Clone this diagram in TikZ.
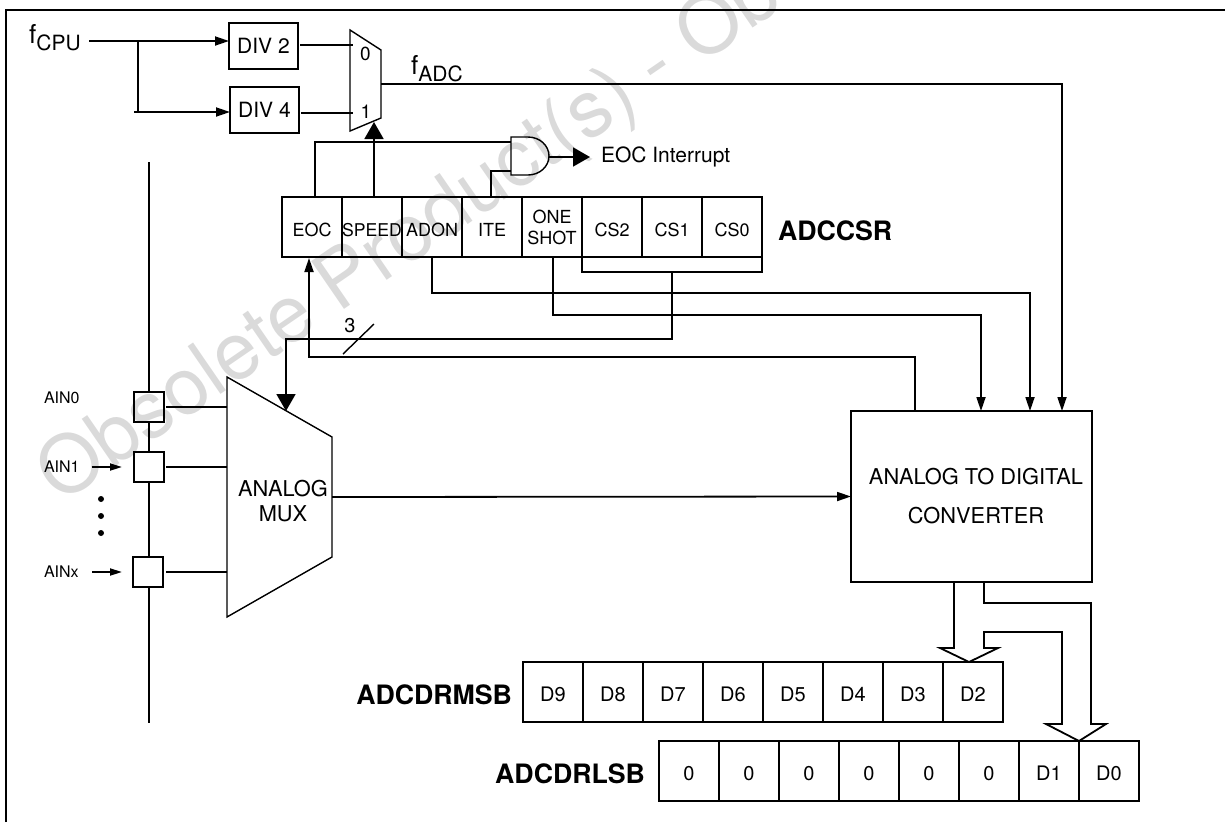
\documentclass[tikz,border=0pt]{standalone}
\usepackage{fontspec}
\setmainfont{TeX Gyre Heros}
\usetikzlibrary{arrows.meta,positioning}
\definecolor{adcink}{HTML}{000000}
\definecolor{adcmark}{HTML}{DADADA}
\tikzset{
  framelin/.style={line width=2.2pt, draw=adcink},
  wire/.style={line width=1.8pt, draw=adcink},
  thinline/.style={line width=1.4pt, draw=adcink},
  arrsmall/.style={-{Triangle[length=14pt,width=9pt]}, line width=1.8pt, draw=adcink},
  arrtiny/.style={-{Triangle[length=12pt,width=7pt]}, line width=1.8pt, draw=adcink},
  arrbig/.style={-{Triangle[length=17pt,width=19pt]}, line width=1.8pt, draw=adcink},
  divbox/.style={draw=adcink, line width=1.8pt, minimum width=69pt, minimum height=46pt,
    inner sep=0pt, outer sep=0pt, font=\fontsize{21}{24}\selectfont},
  cellbox/.style={draw=adcink, line width=1.8pt, minimum width=60pt, minimum height=60pt,
    inner sep=0pt, outer sep=0pt, align=center, font=\fontsize{18}{21}\selectfont},
  regcell/.style={cellbox, text height=19pt, text depth=0pt},
  datacell/.style={cellbox, text height=19pt, text depth=0pt, font=\fontsize{20}{23}\selectfont},
  padbox/.style={draw=adcink, line width=1.8pt, minimum size=30pt, inner sep=0pt, outer sep=0pt},
  ainlbl/.style={inner sep=0pt, outer sep=0pt, anchor=west, font=\fontsize{16}{19}\selectfont},
  plainlbl/.style={inner sep=0pt, outer sep=0pt, align=center, font=\fontsize{21.8}{25}\selectfont},
  boldlbl/.style={inner sep=0pt, outer sep=0pt, font=\fontsize{26.7}{30}\selectfont\bfseries},
  dotmark/.style={circle, fill=adcink, minimum size=6pt, inner sep=0pt},
}
\newcommand{\clksub}[1]{\fontsize{26}{30}\selectfont f\raisebox{-7pt}{\fontsize{21}{24}\selectfont #1}}

\begin{document}
\begin{tikzpicture}[x=1pt, y=-1pt]
  \useasboundingbox (0,0) rectangle (1225,822);
  \begin{scope}
    \clip (0,0) rectangle (1225,822);
    \node[anchor=base west, inner sep=0pt, rotate=34.5, text=adcmark, font=\fontsize{79.5}{90}\selectfont] (wmark) at (60,505) {Obsolete Product(s) - Ob};
  \end{scope}
  \draw[framelin] (6,822) -- (6,10) -- (1225,10);

  \node[anchor=base west, inner sep=0pt] (fcpu) at (29,43) {\clksub{CPU}};
  \node[divbox] (div2) at (263.5,46) {DIV 2};
  \node[divbox] (div4) at (264.5,110) {DIV 4};
  \node[anchor=base west, inner sep=0pt] (fadc) at (411,74) {\clksub{ADC}};
  \coordinate (cpuout) at (89,41);
  \coordinate (split) at (138,41);
  \coordinate (stub) at (134,112);
  \coordinate (clkA) at (350,30);
  \coordinate (clkB) at (381,50);
  \coordinate (clkC) at (381,118);
  \coordinate (clkD) at (350,131);
  \coordinate (clkin0) at (353,45);
  \coordinate (clkin1) at (353,113);
  \coordinate (clkout) at (381,84);
  \coordinate (clksel) at (374,122);
  \draw[thinline] (clkA) -- (clkB) -- (clkC) -- (clkD) -- cycle;
  \node[inner sep=0pt, font=\fontsize{19}{22}\selectfont] (mux0) at (365.5,54) {0};
  \node[inner sep=0pt, font=\fontsize{19}{22}\selectfont] (mux1) at (366,112) {1};

  \node[regcell] (eoc) at (312,227) {EOC};
  \node[regcell, right=0pt of eoc, font=\fontsize{17.6}{21}\selectfont] (speed) {SPEED};
  \node[regcell, right=0pt of speed] (adon) {ADON};
  \node[regcell, right=0pt of adon] (ite) {ITE};
  \node[cellbox, right=0pt of ite] (oneshot) {ONE\\SHOT};
  \node[regcell, right=0pt of oneshot] (cs2) {CS2};
  \node[regcell, right=0pt of cs2] (cs1) {CS1};
  \node[regcell, right=0pt of cs1] (cs0) {CS0};
  \node[boldlbl, right=16pt of cs0, yshift=-4pt] (csr) {ADCCSR};

  \coordinate (gateA) at (511,142);
  \coordinate (gateB) at (511,171);
  \coordinate (gateO) at (549,157);
  \draw[thinline] (511,137) -- (528,137) arc[start angle=90, end angle=-90, x radius=21pt, y radius=19pt] -- (511,175) -- cycle;
  \node[inner sep=0pt, outer sep=0pt, font=\fontsize{21}{25}\selectfont, anchor=west] (intr) at (601,157) {EOC Interrupt};

  \node[draw=adcink, line width=1.8pt, minimum width=241pt, minimum height=171pt, inner sep=0pt, outer sep=0pt] (adcbox) at (971.5,496.5) {};
  \node[inner sep=0pt, align=center, font=\fontsize{21.8}{39}\selectfont] (adclbl) at (976,496) {ANALOG TO DIGITAL\\CONVERTER};

  \coordinate (amuxA) at (227,377);
  \coordinate (amuxB) at (332,437);
  \coordinate (amuxC) at (332,557);
  \coordinate (amuxD) at (227,617);
  \coordinate (amuxsel) at (286,411);
  \coordinate (amuxout) at (332,497);
  \draw[thinline] (amuxA) -- (amuxB) -- (amuxC) -- (amuxD) -- cycle;
  \node[plainlbl] (amuxlbl) at (283,501) {ANALOG\\MUX};

  \coordinate (bustop) at (149,162);
  \coordinate (busbot) at (149,723);
  \node[padbox] (pad0) at (149,407) {};
  \node[padbox] (pad1) at (149,467) {};
  \node[padbox] (padx) at (148,572) {};
  \node[ainlbl] (ain0) at (44,398) {AIN0};
  \node[ainlbl] (ain1) at (44,467) {AIN1};
  \node[ainlbl] (ainx) at (44,572) {AINx};
  \node[dotmark] (dota) at (101,499) {};
  \node[dotmark] (dotb) at (101,516) {};
  \node[dotmark] (dotc) at (101,533) {};

  \node[datacell] (d9) at (553,692) {D9};
  \node[datacell, right=0pt of d9] (d8) {D8};
  \node[datacell, right=0pt of d8] (d7) {D7};
  \node[datacell, right=0pt of d7] (d6) {D6};
  \node[datacell, right=0pt of d6] (d5) {D5};
  \node[datacell, right=0pt of d5] (d4) {D4};
  \node[datacell, right=0pt of d4] (d3) {D3};
  \node[datacell, right=0pt of d3] (d2) {D2};
  \node[boldlbl, left=11pt of d9, yshift=-3pt] (msb) {ADCDRMSB};

  \node[datacell] (z7) at (689,771) {0};
  \node[datacell, right=0pt of z7] (z6) {0};
  \node[datacell, right=0pt of z6] (z5) {0};
  \node[datacell, right=0pt of z5] (z4) {0};
  \node[datacell, right=0pt of z4] (z3) {0};
  \node[datacell, right=0pt of z3] (z2) {0};
  \node[datacell, right=0pt of z2] (d1) {D1};
  \node[datacell, right=0pt of d1] (d0) {D0};
  \node[boldlbl, left=14pt of z7, yshift=-3pt] (lsb) {ADCDRLSB};

  \draw[arrsmall] (cpuout) -- (div2.west |- cpuout);
  \draw[wire] (split) -- (split |- stub);
  \draw[arrsmall] (stub) -- (div4.west |- stub);
  \draw[wire] (div2.east |- clkin0) ++(2,0) -- (clkin0);
  \draw[wire] (div4.east |- clkin1) ++(2,0) -- (clkin1);
  \draw[arrsmall] (clkout) -| ([xshift=90.5pt]adcbox.north);
  \draw[arrbig] ([xshift=2pt]speed.north) -- (clksel);
  \draw[wire] ([xshift=3pt]eoc.north) |- (gateA);
  \draw[wire] ([xshift=-1pt]ite.north) |- (gateB);
  \draw[arrbig] (gateO) -- ([xshift=-11pt]intr.west |- gateO);
  \coordinate (csbus) at ([yshift=-15pt]cs1.south);
  \draw[wire] (cs2.south west) |- (csbus) -| (cs0.south east);
  \draw[arrbig] (csbus) -- ++(0,67) -| (amuxsel);
  \draw[arrsmall] (adon.south) -- ++(0,36) -| ([xshift=58.5pt]adcbox.north);
  \draw[arrsmall] ([xshift=1pt]oneshot.south) -- ++(0,58) -| ([xshift=9.5pt]adcbox.north);
  \draw[arrsmall] ([xshift=-56.5pt]adcbox.north) -- ++(0,-54) -| ([xshift=-3pt,yshift=-1pt]eoc.south);
  \draw[thinline] (343,354) -- (374,324);
  \node[inner sep=0pt, font=\fontsize{20}{23}\selectfont] (busw) at (350,326) {3};
  \draw[arrsmall] (amuxout) -- (adcbox.west);
  \draw[wire] (bustop) -- (pad0);
  \draw[wire] (pad0) -- (pad1);
  \draw[wire] (pad1) -- (pad1 |- padx.north);
  \draw[wire] (pad1 |- padx.south) -- (busbot);
  \draw[wire] ([xshift=2pt]pad0.east) -- (pad0 -| amuxA);
  \draw[wire] ([xshift=2pt]pad1.east) -- (pad1 -| amuxA);
  \draw[wire] ([xshift=3pt]padx.east) -- (padx -| amuxA);
  \draw[arrtiny] ([xshift=12pt]ain1.east) -- ([xshift=-12pt]pad1.west);
  \draw[arrtiny] (92,572) -- ([xshift=-11pt]padx.west);
  \draw[wire] ([xshift=-17.5pt]adcbox.south) -- (954,648) -- (940,648) -- ([xshift=-4pt]d2.north) -- (998,648) -- (984,648) -- (984,632) -- (1062,632) -- (1062,724) -- (1046,724) -- (d1.north east) -- (1106,724) -- (1091,724) -- (1091,603) -- (984,603) -- ([xshift=12.5pt]adcbox.south);
\end{tikzpicture}
\end{document}
